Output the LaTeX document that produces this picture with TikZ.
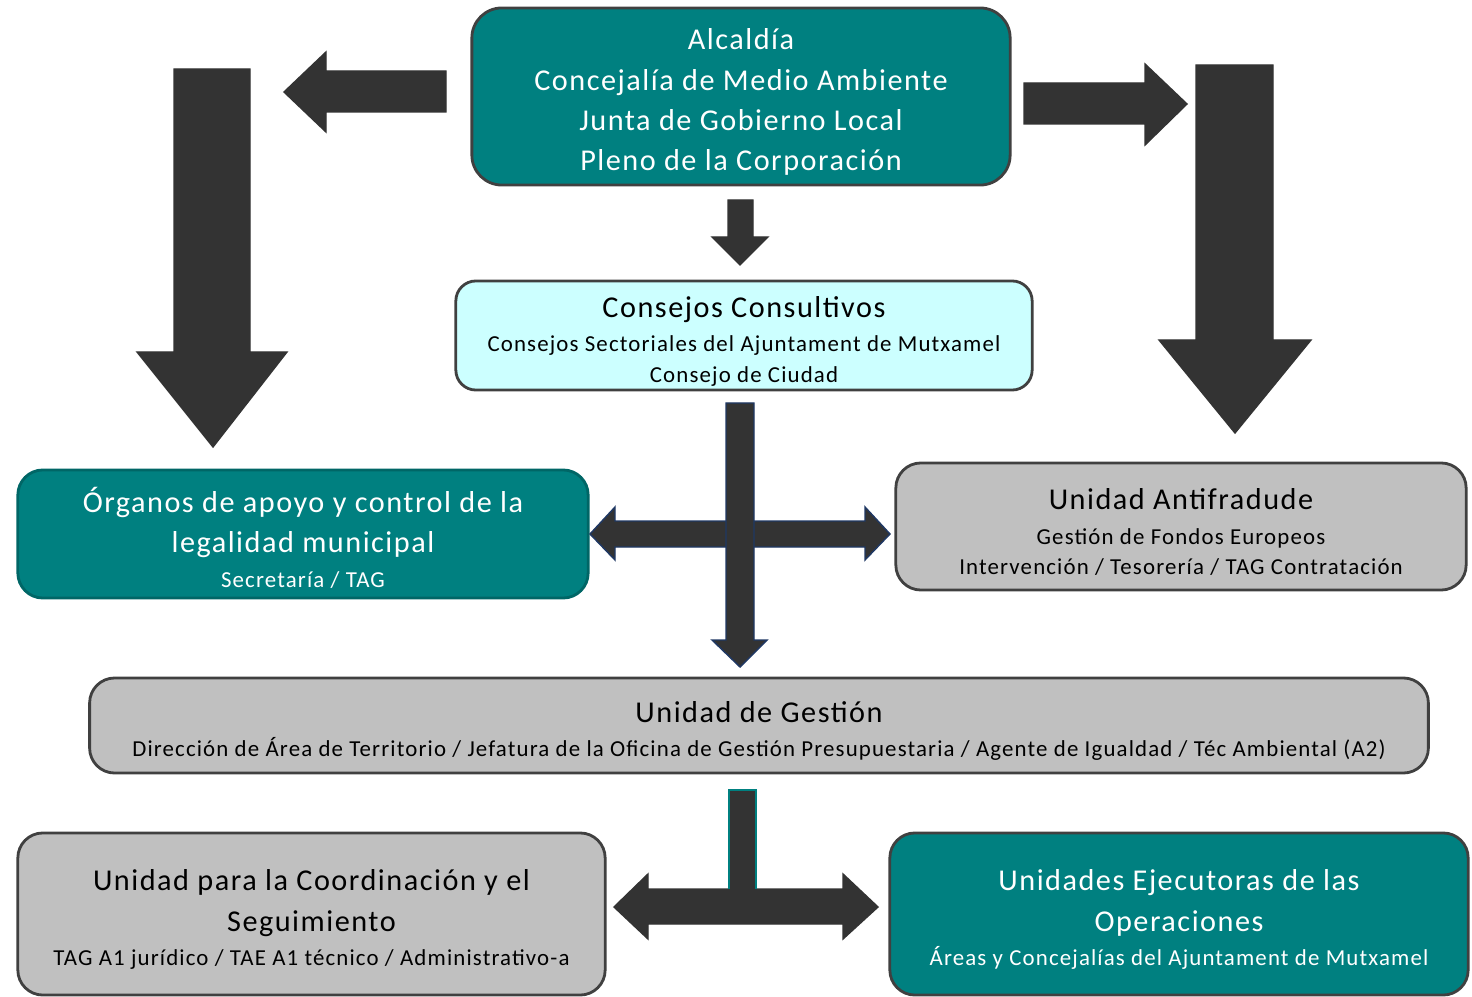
\documentclass[tikz,border=0pt]{standalone}
\usepackage{fontspec}
\setmainfont{Carlito}[LetterSpace=5]
\usetikzlibrary{positioning}
\definecolor{verdeazul}{RGB}{0,128,128}
\definecolor{celeste}{RGB}{204,255,255}
\definecolor{grisclaro}{RGB}{192,192,192}
\definecolor{grisflecha}{RGB}{51,51,51}
\definecolor{azulborde}{RGB}{31,56,100}
\newcommand{\letrachica}{\fontsize{6.5}{8.5}\selectfont}
\newcommand{\alto}{\rule{0pt}{9.2pt}}

\begin{document}
\begin{tikzpicture}[x=0.01cm, y=-0.01cm,
    caja/.style={draw=black!75, line width=0.8pt, rounded corners=0.25cm, align=center, inner sep=0pt, font=\fontsize{8.6}{11.5}\selectfont},
    cajaverde/.style={caja, fill=verdeazul, text=white},
    cajagris/.style={caja, fill=grisclaro},
    flecha/.style={fill=grisflecha, draw=black!80, line width=0.4pt, line join=miter}]
    \useasboundingbox (0,0) rectangle (1472,997);

    % Cajas
    \node[cajaverde, minimum width=5.38cm, minimum height=1.77cm, rounded corners=0.3cm] (alc) at (741,96.5) {\alto Alcaldía\\Concejalía de Medio Ambiente\\Junta de Gobierno Local\\Pleno de la Corporación};

    \node[caja, fill=celeste, minimum width=5.76cm, minimum height=1.09cm, rounded corners=0.2cm] (cons) at (744,335.5) {\alto Consejos Consultivos\\[-1.7pt]\letrachica Consejos Sectoriales del Ajuntament de Mutxamel\\[-2.8pt]\letrachica Consejo de Ciudad};

    \node[cajaverde, draw=verdeazul!80!black, minimum width=5.70cm, minimum height=1.28cm] (org) at (303,534) {\alto Órganos de apoyo y control de la\\legalidad municipal\\[-1.7pt]\letrachica Secretaría / TAG};

    \node[cajagris, minimum width=5.70cm, minimum height=1.27cm] (anti) at (1181,526.5) {\alto Unidad Antifradude\\[-1.7pt]\letrachica Gestión de Fondos Europeos\\[-2.8pt]\letrachica Intervención / Tesorería / TAG Contratación};

    \node[cajagris, minimum width=13.38cm, minimum height=0.95cm] (gest) at (759,725.5) {\alto Unidad de Gestión\\[-1.7pt]\letrachica Dirección de Área de Territorio / Jefatura de la Oficina de Gestión Presupuestaria / Agente de Igualdad / Téc Ambiental (A2)};

    \node[cajagris, minimum width=5.87cm, minimum height=1.62cm] (coord) at (311.5,914) {\alto Unidad para la Coordinación y el\\Seguimiento\\[-1.7pt]\letrachica TAG A1 jurídico / TAE A1 técnico / Administrativo-a};

    \node[cajaverde, minimum width=5.78cm, minimum height=1.62cm] (ejec) at (1179,914) {\alto Unidades Ejecutoras de las\\Operaciones\\[-1.7pt]\letrachica Áreas y Concejalías del Ajuntament de Mutxamel};

    % Flechas de arriba
    \draw[flecha] (446,71) -- (326,71) -- (326,52) -- (284,92) -- (326,132) -- (326,112) -- (446,112) -- cycle;
    \draw[flecha] (174,69) -- (250,69) -- (250,352) -- (287,352) -- (213,447) -- (137,352) -- (174,352) -- cycle;
    \draw[flecha] (1024,83) -- (1145,83) -- (1145,64) -- (1187,104) -- (1145,145) -- (1145,124) -- (1024,124) -- cycle;
    \draw[flecha] (1196,65) -- (1273,65) -- (1273,340) -- (1311,340) -- (1235,433) -- (1159,340) -- (1196,340) -- cycle;
    \draw[flecha] (728,200) -- (753,200) -- (753,237) -- (768,237) -- (740,265) -- (712,237) -- (728,237) -- cycle;

    % Cruz central
    \draw[flecha, draw=azulborde] (590,534) -- (615,507) -- (615,521) -- (865,521) -- (865,507) -- (890,534) -- (865,560) -- (865,547) -- (615,547) -- (615,560) -- cycle;
    \draw[flecha, draw=azulborde] (726,403) -- (754,403) -- (754,640) -- (767,640) -- (740,667) -- (712,640) -- (726,640) -- cycle;

    % Flecha en T de abajo
    \draw[flecha] (614,907) -- (648,874) -- (648,889) -- (843,889) -- (843,874) -- (878,907) -- (843,939) -- (843,924) -- (648,924) -- (648,939) -- cycle;
    \fill[grisflecha] (729,790) rectangle (756,892);
    \draw[verdeazul, line width=0.4pt] (729,889) -- (729,790) -- (756,790) -- (756,889);
\end{tikzpicture}
\end{document}
